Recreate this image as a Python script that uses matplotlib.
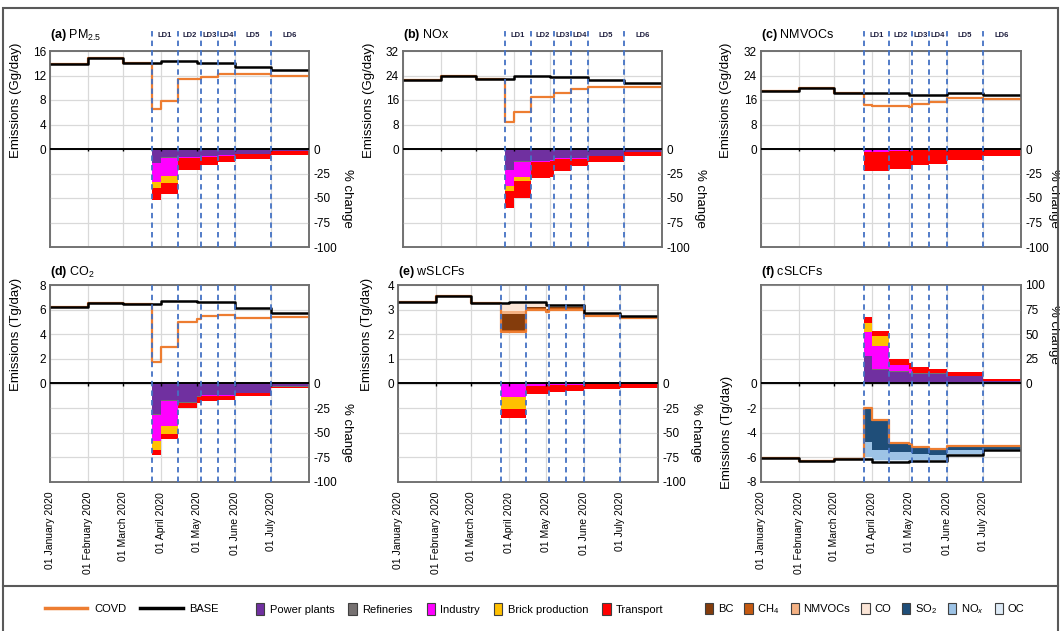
import numpy as np
import matplotlib
matplotlib.use("Agg")
import matplotlib.pyplot as plt
import matplotlib.dates as mdates
from matplotlib.patches import Rectangle, Patch
from matplotlib.lines import Line2D

plt.rcParams['font.family'] = ['Liberation Sans', 'DejaVu Sans']
plt.rcParams['mathtext.fontset'] = 'custom'
plt.rcParams['mathtext.rm'] = 'Liberation Sans'
plt.rcParams['mathtext.it'] = 'Liberation Sans:italic'
plt.rcParams['mathtext.bf'] = 'Liberation Sans:bold'

# ---------------- data ----------------
# step segments: Jan, Feb, Mar1-25, Mar25-Apr1, Apr1-15, Apr15-May1, May1-4, May4-18, May18-Jun1, Jun, Jul
segment_edges = ['2020-01-01', '2020-02-01', '2020-03-01', '2020-03-25', '2020-04-01', '2020-04-15',
                 '2020-05-01', '2020-05-04', '2020-05-18', '2020-06-01', '2020-07-01', '2020-08-01']
lockdown_starts = ['2020-03-25', '2020-04-15', '2020-05-04', '2020-05-18', '2020-06-01', '2020-07-01']
lockdown_labels = ['LD1', 'LD2', 'LD3', 'LD4', 'LD5', 'LD6']
month_ticks = ['2020-01-01', '2020-02-01', '2020-03-01', '2020-04-01', '2020-05-01', '2020-06-01', '2020-07-01']
month_labels = ['01 January 2020', '01 February 2020', '01 March 2020', '01 April 2020',
                '01 May 2020', '01 June 2020', '01 July 2020']

sector_names = ['Power plants', 'Refineries', 'Industry', 'Brick production', 'Transport']
sector_colors = ['#7030A0', '#767171', '#FF00FF', '#FFC000', '#FF0000']
species_names = ['BC', 'CH$_4$', 'NMVOCs', 'CO', 'SO$_2$', 'NO$_x$', 'OC']
species_colors = ['#843C0C', '#C55A11', '#F4B183', '#FBE5D6', '#1F4E79', '#9DC3E6', '#DEEBF7']

# (a) PM2.5 (Gg/day) and % change by sector
pm25_base = [13.9, 14.8, 14.1, 14.1, 14.4, 14.4, 14.1, 14.1, 14.1, 13.4, 12.9]
pm25_covd = [13.9, 14.8, 14.1, 6.6, 7.9, 11.4, 11.4, 11.8, 12.3, 12.3, 12.0]
pm25_power = [0, 0, 0, 14, 8.4, 8, 8, 7, 6, 5, 2]
pm25_refin = [0, 0, 0, 0.5, 0.5, 0.5, 0.5, 0.5, 0.5, 0.3, 0.2]
pm25_indus = [0, 0, 0, 19.5, 19, 0.5, 0.5, 0.5, 0.5, 0.2, 0.2]
pm25_brick = [0, 0, 0, 6, 6.5, 0, 0, 0, 0, 0, 0]
pm25_trans = [0, 0, 0, 12, 11.8, 12.5, 12.5, 8, 6, 4.5, 3.6]

# (b) NOx
nox_base = [22.4, 24.0, 23.0, 23.0, 23.7, 23.7, 23.5, 23.5, 23.5, 22.6, 21.5]
nox_covd = [22.4, 24.0, 23.0, 8.9, 12.1, 16.9, 16.9, 18.4, 19.6, 20.1, 20.1]
nox_power = [0, 0, 0, 21, 12.5, 12, 11, 9, 9, 7, 3]
nox_refin = [0, 0, 0, 0.5, 0.5, 0.5, 0.5, 0.5, 0.5, 0.3, 0.2]
nox_indus = [0, 0, 0, 16.5, 15.5, 0.5, 0.5, 0.5, 0.5, 0.2, 0.2]
nox_brick = [0, 0, 0, 5, 4.4, 0, 0, 0, 0, 0, 0]
nox_trans = [0, 0, 0, 17, 16.6, 17, 17, 12, 7.5, 5.5, 3.6]

# (c) NMVOCs
nmvoc_base = [18.9, 19.9, 18.2, 18.2, 18.2, 18.2, 17.7, 17.7, 17.7, 18.2, 17.5]
nmvoc_covd = [18.9, 19.9, 18.2, 14.5, 13.9, 14.2, 13.8, 14.7, 15.5, 16.6, 16.3]
nmvoc_power = [0, 0, 0, 1, 1, 0.5, 0.5, 0.5, 0.5, 0.3, 0.2]
nmvoc_refin = [0, 0, 0, 0.3, 0.3, 0.3, 0.3, 0.3, 0.3, 0.2, 0.1]
nmvoc_indus = [0, 0, 0, 1.5, 1.5, 1, 1, 0.5, 0.5, 0.3, 0.2]
nmvoc_brick = [0, 0, 0, 0.3, 0.3, 0, 0, 0, 0, 0, 0]
nmvoc_trans = [0, 0, 0, 19, 19.5, 18.5, 18.5, 15.5, 14, 10, 7]

# (d) CO2 (Tg/day)
co2_base = [6.18, 6.5, 6.42, 6.42, 6.72, 6.72, 6.6, 6.6, 6.6, 6.1, 5.7]
co2_covd = [6.18, 6.5, 6.42, 1.76, 2.93, 4.96, 5.2, 5.5, 5.6, 5.34, 5.39]
co2_power = [0, 0, 0, 31, 17, 19, 13, 11.5, 11.5, 9.5, 3]
co2_refin = [0, 0, 0, 0.5, 0.5, 0.5, 0.5, 0.5, 0.5, 0.3, 0.2]
co2_indus = [0, 0, 0, 27, 25.5, 0.5, 0.5, 0.5, 0.5, 0.2, 0.2]
co2_brick = [0, 0, 0, 9, 8, 0, 0, 0, 0, 0, 0]
co2_trans = [0, 0, 0, 5.5, 5, 5, 6, 5, 4, 2.5, 1.3]

# (e) wSLCFs (Tg/day) with species contributions to the reduction
wslcf_base = [3.32, 3.55, 3.28, 3.28, 3.31, 3.31, 3.2, 3.2, 3.2, 2.85, 2.75]
wslcf_covd = [3.32, 3.55, 3.28, 2.1, 2.1, 3.0, 2.92, 3.0, 3.0, 2.75, 2.67]
wslcf_ch4 = [0, 0, 0, 0.08, 0.08, 0.05, 0.05, 0.05, 0.05, 0.03, 0.03]
wslcf_bc = [0, 0, 0, 0.65, 0.65, 0.04, 0.04, 0.04, 0.04, 0.02, 0.02]
wslcf_nmvoc = [0, 0, 0, 0.1, 0.1, 0.03, 0.03, 0.03, 0.03, 0.02, 0.01]
wslcf_co = [0, 0, 0, 0.35, 0.38, 0.19, 0.16, 0.08, 0.08, 0.03, 0.02]
wslcf_power = [0, 0, 0, 0.5, 0.5, 0.3, 0.3, 0.3, 0.3, 0.2, 0.2]
wslcf_refin = [0, 0, 0, 0.3, 0.3, 0.3, 0.3, 0.3, 0.3, 0.2, 0.1]
wslcf_indus = [0, 0, 0, 12.5, 12.5, 1.5, 0.5, 0.5, 0.5, 0.2, 0.2]
wslcf_brick = [0, 0, 0, 12.5, 12.5, 0, 0, 0, 0, 0, 0]
wslcf_trans = [0, 0, 0, 9.5, 9.5, 8.5, 10, 7.5, 6.5, 4.7, 3.8]

# (f) cSLCFs (Tg/day, negative) with species contributions
cslcf_base = [-6.04, -6.3, -6.15, -6.15, -6.37, -6.37, -6.3, -6.3, -6.3, -5.77, -5.42]
cslcf_covd = [-6.04, -6.3, -6.15, -1.98, -2.98, -4.8, -4.93, -5.15, -5.28, -5.09, -5.07]
cslcf_oc = [0, 0, 0, 0.2, 0.15, 0.15, 0.12, 0.1, 0.07, 0.05, 0.02]
cslcf_nox = [0, 0, 0, 1.2, 0.8, 0.67, 0.6, 0.45, 0.4, 0.28, 0.08]
cslcf_so2 = [0, 0, 0, 2.77, 2.44, 0.75, 0.65, 0.6, 0.55, 0.35, 0.25]
cslcf_power = [0, 0, 0, 28, 14, 12, 10, 10, 10, 7.5, 2.4]
cslcf_refin = [0, 0, 0, 0.3, 0.3, 0.5, 0.5, 0.5, 0.5, 0.3, 0.2]
cslcf_indus = [0, 0, 0, 23.5, 24, 6, 4, 0.5, 0.5, 0.2, 0.1]
cslcf_brick = [0, 0, 0, 9.5, 9.5, 0, 0, 0, 0, 0, 0]
cslcf_trans = [0, 0, 0, 6, 6, 6.5, 6, 6, 3.6, 3.9, 2.3]

# ---------------- drawing ----------------
W, H = 1060, 631
fig = plt.figure(figsize=(W / 100, H / 100), dpi=100)

edges = mdates.date2num(np.array(segment_edges, dtype='datetime64[D]'))
ld_x = mdates.date2num(np.array(lockdown_starts, dtype='datetime64[D]'))
month_x = mdates.date2num(np.array(month_ticks, dtype='datetime64[D]'))
x_end = edges[-1]

COVD_C = '#ED7D31'
SPINE_C = '#6E6E6E'
GRID_C = '#D9D9D9'
LD_C = '#4472C4'


def ext(v):
    v = np.asarray(v, dtype=float)
    return np.append(v, v[-1])


def box(l, t, r, b):
    return [l / W, 1 - b / H, (r - l) / W, (b - t) / H]


def draw_panel(pos, title, ymax, lticks, rticks, ylabel, sectors, base, covd, top_row,
               flipped=False, species=None, species_mode=None, rlab_x=1.145, llab_x=-0.108):
    ax = fig.add_axes(box(*pos))
    ax2 = ax.twinx()
    ax.set_xlim(edges[0], x_end)
    ax.set_ylim(-ymax, ymax)
    ax2.set_ylim(-100, 100)
    ax.set_yticks(lticks)
    ax.set_yticklabels([f"{t:g}" for t in lticks])
    ax2.set_yticks(rticks)
    ax2.set_yticklabels([f"{t:g}" for t in rticks])
    for a in (ax, ax2):
        a.tick_params(axis='y', length=0, labelsize=8.5, pad=3)
        for s in a.spines.values():
            s.set_color(SPINE_C)
            s.set_linewidth(1.1)
    ax.set_xticks(month_x)
    ax.tick_params(axis='x', length=0)
    if top_row:
        ax.set_xticklabels([])
    else:
        ax.set_xticklabels(month_labels, rotation=90, fontsize=7.5, va='top', ha='center')
        ax.tick_params(axis='x', pad=7)
    ax.set_axisbelow(True)
    ax2.set_axisbelow(True)
    ax.grid(True, color=GRID_C, lw=0.9)
    ax2.grid(True, axis='y', color=GRID_C, lw=0.9)

    # labels
    ax.set_ylabel(ylabel, fontsize=9.5)
    ax.yaxis.set_label_coords(llab_x, 0.25 if flipped else 0.75)
    ax2.set_ylabel('% change', fontsize=9.5, rotation=270, va='center')
    ax2.yaxis.set_label_coords(rlab_x, 0.75 if flipped else 0.25)
    ty = 1.08 if top_row else 1.066
    ax.text(0.0, ty, title, transform=ax.transAxes, fontsize=9, ha='left', va='center')

    # percent change stacks (sectors)
    sign = 1 if flipped else -1
    cum = np.zeros(len(edges))
    for vals, col in zip(sectors, sector_colors):
        new = cum + ext(vals)
        ax2.fill_between(edges, sign * cum, sign * new, step='post', color=col, lw=0, zorder=2)
        cum = new

    # species stacks in emission half
    if species is not None:
        if species_mode == 'up_from_covd':
            cum = ext(covd)
            cols = [species_colors[1], species_colors[0], species_colors[2], species_colors[3]]
        else:
            cum = ext(base)
            cols = [species_colors[6], species_colors[5], species_colors[4]]
        for vals, col in zip(species, cols):
            new = cum + ext(vals)
            ax.fill_between(edges, cum, new, step='post', color=col, lw=0, zorder=2)
            cum = new

    ax.step(edges, ext(covd), where='post', color=COVD_C, lw=1.6, zorder=3)
    ax.step(edges, ext(base), where='post', color='black', lw=1.8, zorder=4)

    # zero line and small ticks on it
    ax2.axhline(0, color='black', lw=1.4, zorder=4)
    ax2.vlines(month_x[1:], 0, -2.5, color='black', lw=1.0, zorder=4)

    # lockdown dashed lines
    ymax_line = 1.117 if top_row else 1.0
    for xv in ld_x:
        ax2.axvline(xv, ymin=0, ymax=ymax_line, color=LD_C, lw=1.3, ls=(0, (3, 2.3)),
                    clip_on=False, zorder=6)
    if top_row:
        bounds = list(ld_x) + [x_end]
        for i, lab in enumerate(lockdown_labels):
            xm = 0.5 * (bounds[i] + bounds[i + 1])
            ax2.text(xm, 1.08, lab, transform=ax2.get_xaxis_transform(), fontsize=5.5,
                     fontweight='bold', ha='center', va='center', color='#1F1F3F')
    return ax, ax2


pct_ticks_neg = [0, -25, -50, -75, -100]
pct_ticks_pos = [0, 25, 50, 75, 100]

draw_panel((50, 51, 309, 247), r"$\mathbf{(a)}$ PM$_{2.5}$", 16, [0, 4, 8, 12, 16], pct_ticks_neg,
           'Emissions (Gg/day)',
           [pm25_power, pm25_refin, pm25_indus, pm25_brick, pm25_trans], pm25_base, pm25_covd, True)
draw_panel((403, 51, 662, 247), r"$\mathbf{(b)}$ NOx", 32, [0, 8, 16, 24, 32], pct_ticks_neg,
           'Emissions (Gg/day)',
           [nox_power, nox_refin, nox_indus, nox_brick, nox_trans], nox_base, nox_covd, True)
draw_panel((761, 51, 1021, 247), r"$\mathbf{(c)}$ NMVOCs", 32, [0, 8, 16, 24, 32], pct_ticks_neg,
           'Emissions (Gg/day)',
           [nmvoc_power, nmvoc_refin, nmvoc_indus, nmvoc_brick, nmvoc_trans], nmvoc_base, nmvoc_covd, True,
           rlab_x=1.125, llab_x=-0.11)
draw_panel((50, 285, 309, 482), r"$\mathbf{(d)}$ CO$_2$", 8, [0, 2, 4, 6, 8], pct_ticks_neg,
           'Emissions (Tg/day)',
           [co2_power, co2_refin, co2_indus, co2_brick, co2_trans], co2_base, co2_covd, False)
draw_panel((398, 285, 658, 482), r"$\mathbf{(e)}$ wSLCFs", 4, [0, 1, 2, 3, 4], pct_ticks_neg,
           'Emissions (Tg/day)',
           [wslcf_power, wslcf_refin, wslcf_indus, wslcf_brick, wslcf_trans], wslcf_base, wslcf_covd, False,
           species=[wslcf_ch4, wslcf_bc, wslcf_nmvoc, wslcf_co], species_mode='up_from_covd',
           llab_x=-0.096)
draw_panel((761, 285, 1021, 482), r"$\mathbf{(f)}$ cSLCFs", 8, [0, -2, -4, -6, -8], pct_ticks_pos,
           'Emissions (Tg/day)',
           [cslcf_power, cslcf_refin, cslcf_indus, cslcf_brick, cslcf_trans], cslcf_base, cslcf_covd, False,
           flipped=True, species=[cslcf_oc, cslcf_nox, cslcf_so2], species_mode='up_from_base',
           rlab_x=1.125, llab_x=-0.108)

# ---------------- legends ----------------
leg_y = 1 - 609 / H
h1 = [Line2D([], [], color=COVD_C, lw=2.5), Line2D([], [], color='black', lw=2.5)]
l1 = ['COVD', 'BASE']
fig.legend(h1, l1, loc='center left', bbox_to_anchor=(45 / W, leg_y), ncol=2, frameon=False,
           fontsize=8, handlelength=3.8, handletextpad=0.6, columnspacing=1.3, borderpad=0,
           borderaxespad=0)
h2 = [Patch(facecolor=c, edgecolor='#404040', lw=0.8) for c in sector_colors]
fig.legend(h2, sector_names, loc='center left', bbox_to_anchor=(256 / W, leg_y), ncol=5, frameon=False,
           fontsize=8, handlelength=0.75, handleheight=1.2, handletextpad=0.5, columnspacing=1.25,
           borderpad=0, borderaxespad=0)
h3 = [Patch(facecolor=c, edgecolor='#404040', lw=0.8) for c in species_colors]
fig.legend(h3, species_names, loc='center left', bbox_to_anchor=(705 / W, leg_y), ncol=7, frameon=False,
           fontsize=8, handlelength=0.75, handleheight=1.2, handletextpad=0.4, columnspacing=1.0,
           borderpad=0, borderaxespad=0)

# frame and separator
fig.add_artist(Rectangle((3 / W, -0.01), 1055 / W, 0.9873 + 0.01, transform=fig.transFigure,
                         fill=False, edgecolor='#595959', lw=1.5))
fig.add_artist(Line2D([3 / W, 1058 / W], [1 - 586 / H] * 2, transform=fig.transFigure,
                      color='#595959', lw=1.5))

fig.savefig('out.png', dpi=100)
